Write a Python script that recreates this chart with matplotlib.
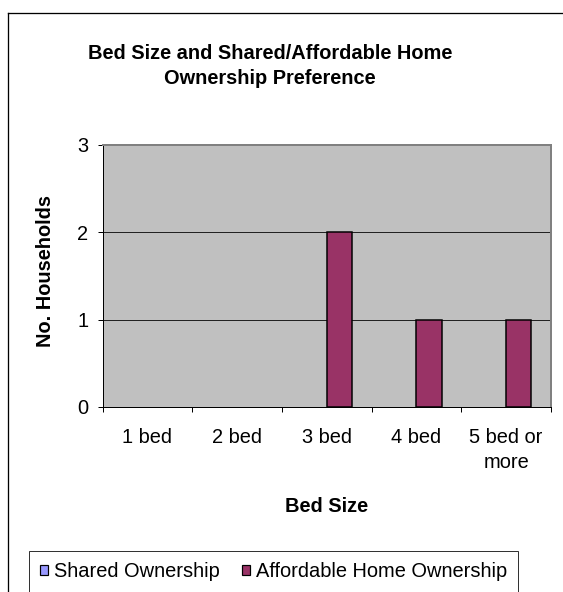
import matplotlib.pyplot as plt
from matplotlib.patches import Patch
from matplotlib.lines import Line2D
import numpy as np

plt.rcParams['font.family'] = ['Liberation Sans', 'DejaVu Sans']

categories = ['1 bed', '2 bed', '3 bed', '4 bed', '5 bed or\nmore']
shared = [0, 0, 0, 0, 0]
affordable = [0, 0, 2, 1, 1]
series_names = ['Shared Ownership', 'Affordable Home Ownership']
series_colors = ['#9999FF', '#993366']

W, H = 563, 592
fig = plt.figure(figsize=(W / 72, H / 72), dpi=72)
fig.patch.set_facecolor('white')

# outer chart border (only left and top edges fall inside the image)
fig.add_artist(Line2D([8 / W, 8 / W], [0, 1 - 13 / H], color='black', lw=1.3,
                      transform=fig.transFigure))
fig.add_artist(Line2D([8 / W, 1], [1 - 13 / H, 1 - 13 / H], color='black', lw=1.3,
                      transform=fig.transFigure))

left, right, top, bottom = 102.5, 551, 145, 407
ax = fig.add_axes([left / W, 1 - bottom / H, (right - left) / W, (bottom - top) / H])
ax.set_facecolor('#C0C0C0')

x = np.arange(len(categories))
bw = 0.28
# zero-height bars get no outline
for off, vals, col in [(-bw / 2, shared, series_colors[0]), (bw / 2, affordable, series_colors[1])]:
    ax.bar(x + off, vals, bw, color=col, edgecolor='black',
           linewidth=[1.5 if v else 0 for v in vals], zorder=3)

ax.set_xlim(-0.5, len(categories) - 0.5)
ax.set_ylim(0, 3)
ax.set_yticks([0, 1, 2, 3])
ax.yaxis.grid(True, color='#222222', lw=1)
ax.set_axisbelow(True)

ax.set_xticks(np.arange(-0.5, len(categories), 1))
ax.set_xticklabels([])
ax.set_xticks(x, minor=True)
ax.set_xticklabels(categories, minor=True, fontsize=20, linespacing=1.4)
ax.tick_params(axis='x', which='major', length=5, width=1, direction='out')
ax.tick_params(axis='x', which='minor', length=0, pad=21)
ax.tick_params(axis='y', length=5, width=1, direction='out', labelsize=20, pad=9)

for s in ['left', 'bottom']:
    ax.spines[s].set_color('black')
    ax.spines[s].set_linewidth(1)
for s in ['top', 'right']:
    ax.spines[s].set_color('#808080')
    ax.spines[s].set_linewidth(2)

fig.text(270 / W, 1 - 66 / H, 'Bed Size and Shared/Affordable Home\nOwnership Preference',
         ha='center', va='center', fontsize=20, fontweight='bold', linespacing=1.4)
fig.text(327 / W, 1 - 506 / H, 'Bed Size', ha='center', va='center',
         fontsize=20, fontweight='bold')
fig.text(46 / W, 1 - 271 / H, 'No. Households', ha='center', va='center',
         rotation=90, fontsize=20, fontweight='bold')

handles = [Patch(facecolor=c, edgecolor='black', lw=1.2) for c in series_colors]
leg = fig.legend(handles, series_names, loc='upper left',
                 bbox_to_anchor=(29 / W, 1 - 551 / H), ncol=2, fontsize=20,
                 frameon=True, fancybox=False, edgecolor='black', borderpad=0.55,
                 handlelength=0.4, handleheight=0.4, handletextpad=0.3,
                 columnspacing=1.1, borderaxespad=0)
leg.get_frame().set_linewidth(1)

fig.savefig('out.png', dpi=72)
